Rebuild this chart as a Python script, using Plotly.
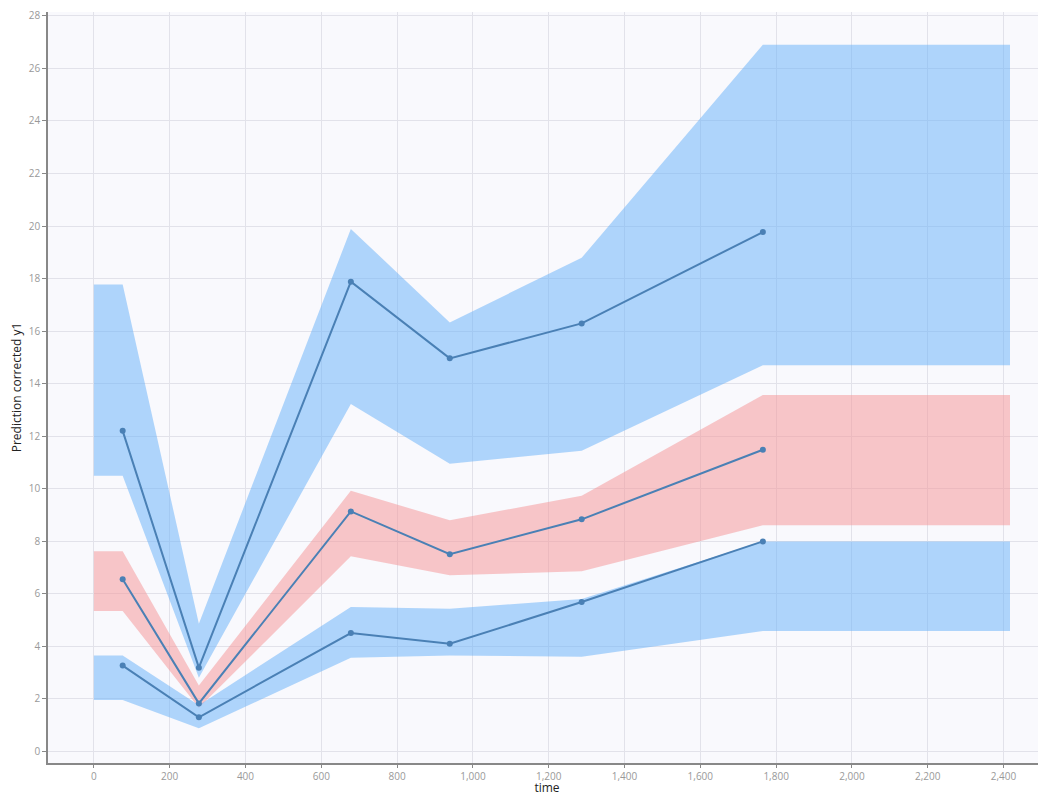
import plotly.graph_objects as go

# bin midpoints (time) for observed percentiles
obs_time = [76, 277, 678, 939, 1287, 1765]
obs_p95 = [12.2, 3.18, 17.88, 14.96, 16.29, 19.77]
obs_p50 = [6.55, 1.82, 9.13, 7.5, 8.83, 11.48]
obs_p05 = [3.26, 1.29, 4.5, 4.09, 5.68, 7.99]

# band x positions (bin edges / midpoints)
band_time = [0, 76, 277, 678, 939, 1287, 1765, 2417]
# upper percentile prediction interval
hi_top = [17.77, 17.77, 4.85, 19.89, 16.33, 18.79, 26.9, 26.9]
hi_bot = [10.49, 10.49, 2.8, 13.22, 10.95, 11.44, 14.7, 14.7]
# median prediction interval
mid_top = [7.61, 7.61, 2.5, 9.92, 8.79, 9.73, 13.56, 13.56]
mid_bot = [5.34, 5.34, 1.65, 7.42, 6.7, 6.85, 8.6, 8.6]
# lower percentile prediction interval
lo_top = [3.64, 3.64, 1.75, 5.49, 5.42, 5.8, 7.99, 7.99]
lo_bot = [1.95, 1.95, 0.87, 3.56, 3.64, 3.6, 4.58, 4.58]

x_ticks = list(range(0, 2401, 200))
y_ticks = list(range(0, 29, 2))

BLUE = "rgba(100,175,250,0.5)"
RED = "rgba(246,146,147,0.5)"
LINE = "#4a80b5"

fig = go.Figure()

def band(top, bot, color):
    fig.add_trace(go.Scatter(
        x=band_time + band_time[::-1],
        y=top + bot[::-1],
        fill="toself", fillcolor=color,
        line=dict(width=0), mode="lines",
        hoverinfo="skip", showlegend=False))

band(hi_top, hi_bot, BLUE)
band(mid_top, mid_bot, RED)
band(lo_top, lo_bot, BLUE)

for ys in (obs_p95, obs_p50, obs_p05):
    fig.add_trace(go.Scatter(
        x=obs_time, y=ys, mode="lines+markers",
        line=dict(color=LINE, width=2),
        marker=dict(color=LINE, size=6),
        showlegend=False))

axis_common = dict(
    showgrid=True, gridcolor="#e2e2ea", gridwidth=1,
    zeroline=False, showline=True, linecolor="#888888", linewidth=1.5,
    ticks="outside", tickcolor="#888888",
    ticklabeloverflow="allow",
    tickfont=dict(family="Open Sans", size=10, color="#999999"),
)

title_font = dict(family="Open Sans", size=12, color="#222222")

fig.update_layout(
    width=1038, height=788,
    margin=dict(l=40, r=0, t=2, b=33),
    paper_bgcolor="white", plot_bgcolor="#f9f9fd",
    xaxis=dict(range=[-121, 2512], tickvals=x_ticks, ticklen=3,
               tickformat=",d",
               title=dict(text="time", standoff=5, font=title_font),
               **axis_common),
    yaxis=dict(range=[-0.45, 28.15], tickvals=y_ticks, ticklen=4,
               title=dict(text="Prediction corrected y1", standoff=5, font=title_font),
               **axis_common),
)

fig.write_html("out.html")
